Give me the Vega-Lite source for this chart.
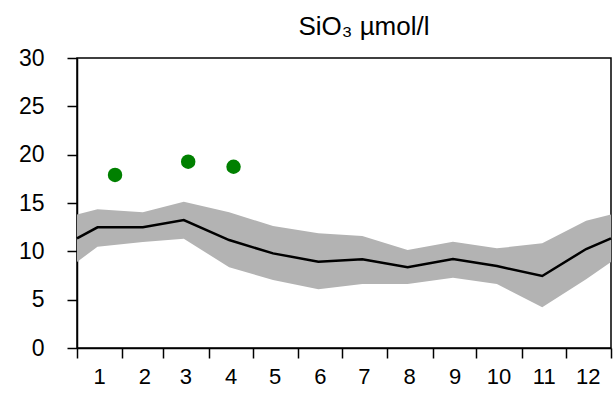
{
  "$schema": "https://vega.github.io/schema/vega-lite/v6.json",
  "autosize": {"type": "none"},
  "width": 534,
  "height": 290,
  "padding": {"left": 77, "top": 58, "right": 2, "bottom": 46},
  "background": "white",
  "config": {
    "font": "Liberation Sans",
    "view": {"stroke": "black", "strokeWidth": 1.5},
    "axis": {"grid": false, "domainColor": "black", "tickColor": "black", "labelColor": "black", "labelFont": "Liberation Sans", "tickSize": 10, "tickWidth": 1.5, "domainWidth": 1.5, "title": null}
  },
  "title": {"text": "SiO₃ µmol/l", "fontSize": 26, "font": "Liberation Sans", "fontWeight": "normal", "color": "black", "baseline": "alphabetic", "offset": 25, "dx": 20, "dy": 39},
  "datasets": {
    "clim": [
      {"day": 0, "mean": 11.35, "lo": 8.9, "hi": 13.8},
      {"day": 14, "mean": 12.48, "lo": 10.48, "hi": 14.35},
      {"day": 45, "mean": 12.5, "lo": 10.97, "hi": 14.04},
      {"day": 73, "mean": 13.24, "lo": 11.31, "hi": 15.14},
      {"day": 104, "mean": 11.17, "lo": 8.35, "hi": 14.04},
      {"day": 134, "mean": 9.79, "lo": 7.03, "hi": 12.62},
      {"day": 165, "mean": 8.93, "lo": 6.07, "hi": 11.86},
      {"day": 195, "mean": 9.17, "lo": 6.62, "hi": 11.59},
      {"day": 226, "mean": 8.35, "lo": 6.62, "hi": 10.14},
      {"day": 257, "mean": 9.2, "lo": 7.27, "hi": 11.0},
      {"day": 287, "mean": 8.48, "lo": 6.62, "hi": 10.31},
      {"day": 318, "mean": 7.45, "lo": 4.21, "hi": 10.83},
      {"day": 348, "mean": 10.24, "lo": 7.1, "hi": 13.17},
      {"day": 365, "mean": 11.35, "lo": 8.9, "hi": 13.8}
    ],
    "obs": [
      {"day": 26, "value": 17.9},
      {"day": 76, "value": 19.27},
      {"day": 107, "value": 18.75}
    ]
  },
  "layer": [
    {
      "data": {"name": "clim"},
      "mark": {"type": "area", "color": "#b3b3b3", "opacity": 1},
      "encoding": {
        "x": {"field": "day", "type": "quantitative", "scale": {"domain": [0, 365], "nice": false, "zero": false},
          "axis": {"values": [0, 31, 59, 90, 120, 151, 181, 212, 243, 273, 304, 334, 365], "labelFontSize": 22, "labelOffset": 22, "labelOverlap": false, "labelFlush": false, "labelPadding": 8,
            "labelExpr": "datum.value >= 365 ? '' : '' + (indexof([0,31,59,90,120,151,181,212,243,273,304,334], datum.value) + 1)"}},
        "y": {"field": "lo", "type": "quantitative", "scale": {"domain": [0, 30], "nice": false},
          "axis": {"values": [0, 5, 10, 15, 20, 25, 30], "labelFontSize": 23, "labelPadding": 23}},
        "y2": {"field": "hi"}
      }
    },
    {
      "data": {"name": "clim"},
      "mark": {"type": "line", "color": "black", "strokeWidth": 2.5},
      "encoding": {
        "x": {"field": "day", "type": "quantitative"},
        "y": {"field": "mean", "type": "quantitative"}
      }
    },
    {
      "data": {"name": "obs"},
      "mark": {"type": "circle", "color": "#008000", "opacity": 1, "size": 209},
      "encoding": {
        "x": {"field": "day", "type": "quantitative"},
        "y": {"field": "value", "type": "quantitative"}
      }
    }
  ]
}
